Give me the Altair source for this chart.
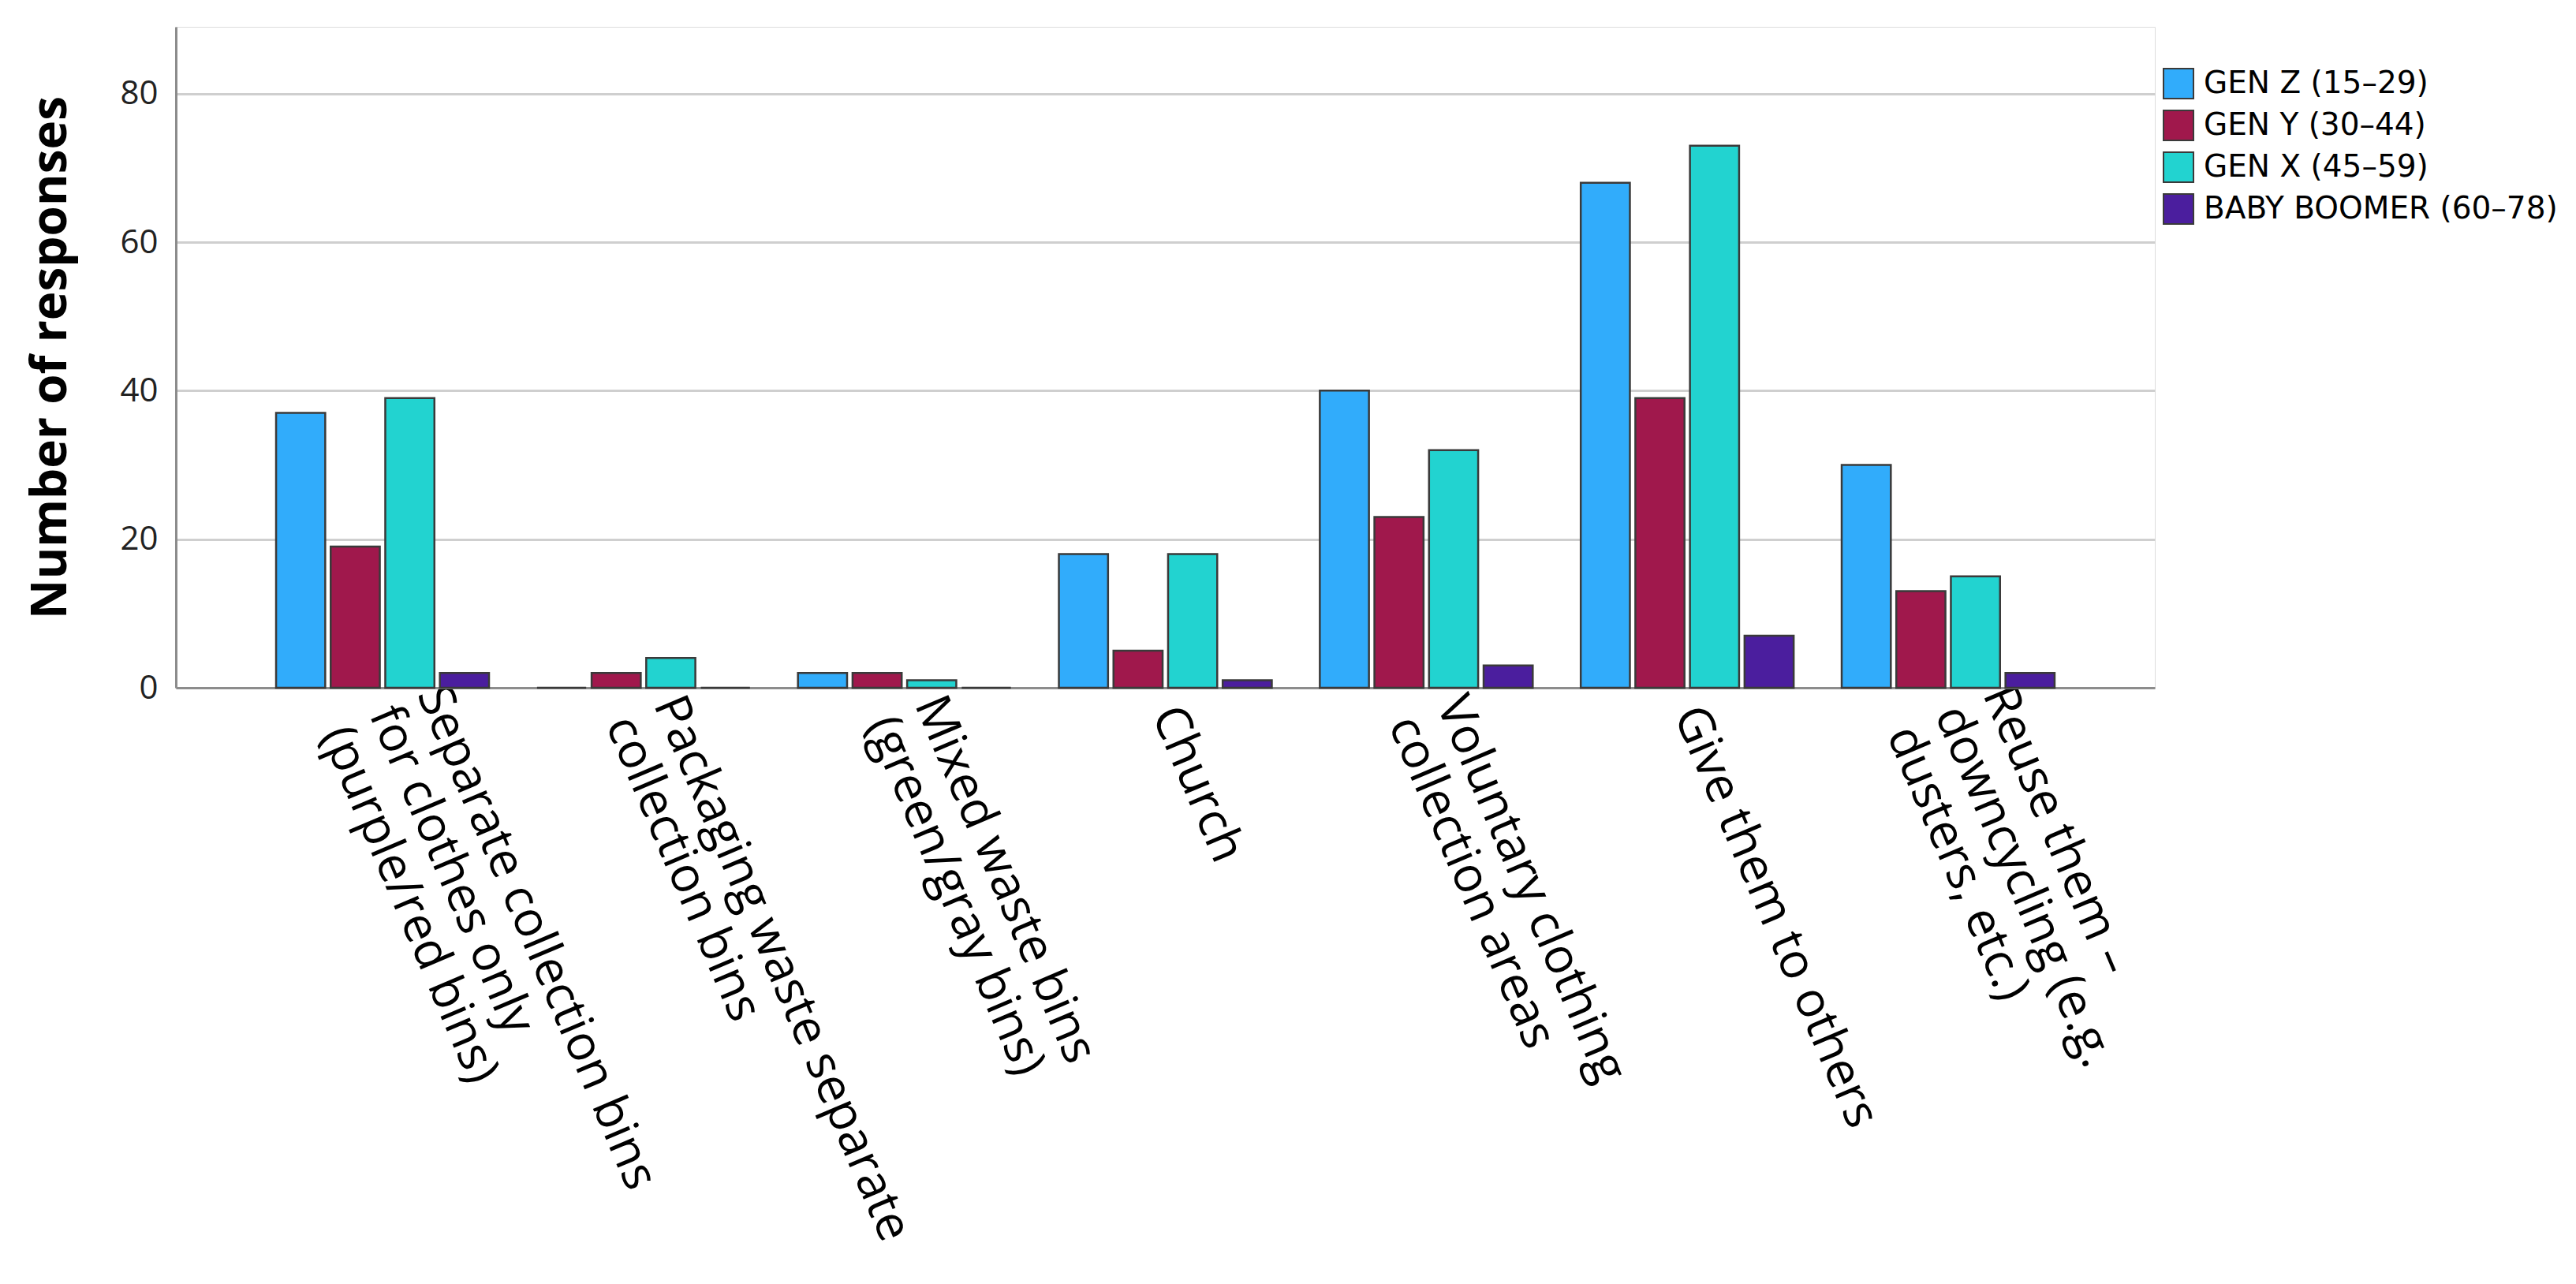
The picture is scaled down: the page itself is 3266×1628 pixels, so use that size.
import altair as alt
import pandas as pd

categories = [
    "Separate collection bins\nfor clothes only\n(purple/red bins)",
    "Packaging waste separate\ncollection bins",
    "Mixed waste bins\n(green/gray bins)",
    "Church",
    "Voluntary clothing\ncollection areas",
    "Give them to others",
    "Reuse them –\ndowncycling (e.g.\ndusters, etc.)",
]
series = ["GEN Z (15–29)", "GEN Y (30–44)", "GEN X (45–59)", "BABY BOOMER (60–78)"]
gen_z = [37, 0, 2, 18, 40, 68, 30]
gen_y = [19, 2, 2, 5, 23, 39, 13]
gen_x = [39, 4, 1, 18, 32, 73, 15]
boomer = [2, 0, 0, 1, 3, 7, 2]
colors = ["#31acfb", "#a0184c", "#22d3d0", "#4b1e9e"]
y_ticks = [0, 20, 40, 60, 80]

rows = []
for s, vals in zip(series, [gen_z, gen_y, gen_x, boomer]):
    for c, v in zip(categories, vals):
        rows.append({"category": c, "group": s, "value": v})
df = pd.DataFrame(rows)

FONT = "Open Sans"
N_LINES = "length(split(datum.value, '\\n'))"

chart = (
    alt.Chart(df)
    .mark_bar(stroke="#3a3a3a", strokeWidth=2.5)
    .encode(
        x=alt.X(
            "category:N",
            sort=categories,
            scale=alt.Scale(paddingInner=0.184, paddingOuter=0.384),
            axis=alt.Axis(
                title=None,
                labelAngle=67,
                labelAlign="left",
                labelBaseline="middle",
                labelExpr="split(datum.label, '\\n')",
                labelFont=FONT,
                labelFontSize=62,
                labelLineHeight=66,
                labelColor="#000000",
                labelOffset={
                    "condition": [
                        {"test": N_LINES + " == 3", "value": 61},
                        {"test": N_LINES + " == 2", "value": 30},
                    ],
                    "value": 0,
                },
                labelPadding={
                    "condition": [
                        {"test": N_LINES + " == 3", "value": 0},
                        {"test": N_LINES + " == 2", "value": 13},
                    ],
                    "value": 26,
                },
                labelLimit=0,
                labelOverlap=False,
                labelBound=False,
                ticks=False,
                tickSize=0,
                domainColor="#8c8c8c",
                domainWidth=3,
                grid=False,
            ),
        ),
        xOffset=alt.XOffset(
            "group:N", sort=series, scale=alt.Scale(paddingInner=0.1, paddingOuter=0)
        ),
        y=alt.Y(
            "value:Q",
            scale=alt.Scale(domain=[0, 89], nice=False),
            axis=alt.Axis(
                title="Number of responses",
                values=y_ticks,
                titleFont=FONT,
                titleFontSize=62,
                titleFontWeight="bold",
                titleColor="#000000",
                titlePadding=55,
                labelFont=FONT,
                labelFontSize=42,
                labelColor="#222222",
                labelPadding=23,
                ticks=False,
                tickSize=0,
                domainColor="#8c8c8c",
                domainWidth=3,
                grid=True,
                gridColor="#cfcfcf",
                gridWidth=3,
            ),
        ),
        color=alt.Color(
            "group:N",
            sort=series,
            scale=alt.Scale(domain=series, range=colors),
            legend=alt.Legend(
                title=None,
                orient="none",
                legendX=2519,
                legendY=52,
                symbolType="square",
                symbolSize=1444,
                symbolStrokeColor="#3a3a3a",
                symbolStrokeWidth=2,
                symbolOpacity=1,
                labelFont="DejaVu Sans",
                labelFontSize=39,
                labelColor="#000000",
                labelOffset=12,
                rowPadding=7,
                padding=0,
                labelLimit=0,
            ),
        ),
    )
    .properties(
        width=2509,
        height=838,
        autosize=alt.AutoSizeParams(type="none"),
        padding={"left": 215, "top": 26, "right": 526, "bottom": 748},
    )
    .configure_view(stroke=None)
    .configure(background="white")
)

chart.save("out.html", embed_options={"renderer": "svg", "actions": False})
